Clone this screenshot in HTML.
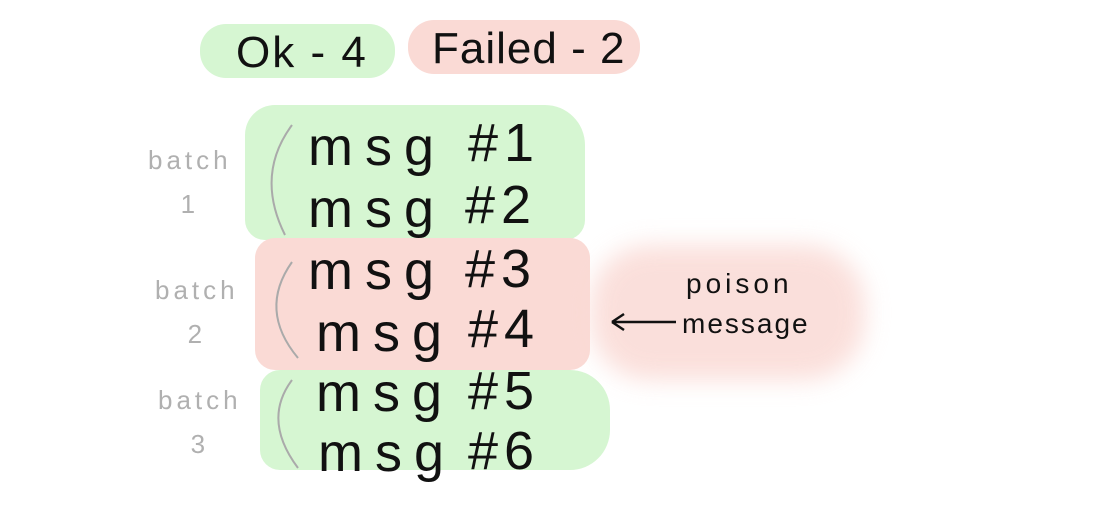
<!DOCTYPE html>
<html><head><meta charset="utf-8"><style>
body{margin:0;width:1100px;height:518px;background:#fff;position:relative;overflow:hidden;font-family:"Liberation Sans",sans-serif}
.b{position:absolute}
.t{position:absolute;color:#111;white-space:nowrap}
.g{position:absolute;color:#b0b0b0;font-size:26px;text-align:center;line-height:44px;letter-spacing:4px}
.m{font-size:54px;letter-spacing:12px}
.n{font-size:54px;letter-spacing:6px}
</style></head><body>
<div class="b" style="left:200px;top:24px;width:195px;height:54px;background:#d6f6d2;border-radius:26px"></div>
<div class="b" style="left:408px;top:20px;width:232px;height:54px;background:#fadad5;border-radius:26px"></div>
<div class="t" style="left:236px;top:28px;font-size:44px;letter-spacing:2px">Ok - 4</div>
<div class="t" style="left:432px;top:24px;font-size:44px;letter-spacing:1px">Failed - 2</div>

<div class="b" style="left:245px;top:105px;width:340px;height:135px;background:#d6f6d2;border-radius:30px 40px 20px 20px"></div>
<div class="b" style="left:255px;top:238px;width:335px;height:132px;background:#fadad5;border-radius:20px"></div>
<div class="b" style="left:260px;top:370px;width:350px;height:100px;background:#d6f6d2;border-radius:20px 40px 40px 20px"></div>
<div class="b" style="left:590px;top:245px;width:275px;height:135px;background:#fadad5;border-radius:60px;filter:blur(12px);opacity:.85"></div>

<svg class="b" style="left:0;top:0" width="1100" height="518">
<g fill="none" stroke="#aaa" stroke-width="2">
<path d="M292 125 Q255 175 285 235"/>
<path d="M292 262 Q258 310 298 358"/>
<path d="M292 380 Q262 420 298 468"/>
</g>
<path d="M612 322 H676 M612 322 l12 -8 M612 322 l12 8" stroke="#111" stroke-width="2.5" fill="none"/>
</svg>

<div class="g" style="left:148px;top:138px">batch<br>1</div>
<div class="g" style="left:155px;top:268px">batch<br>2</div>
<div class="g" style="left:158px;top:378px">batch<br>3</div>

<div class="t m" style="left:308px;top:116px">msg</div><div class="t n" style="left:468px;top:112px">#1</div>
<div class="t m" style="left:308px;top:178px">msg</div><div class="t n" style="left:465px;top:174px">#2</div>
<div class="t m" style="left:308px;top:240px">msg</div><div class="t n" style="left:465px;top:238px">#3</div>
<div class="t m" style="left:316px;top:302px">msg</div><div class="t n" style="left:468px;top:298px">#4</div>
<div class="t m" style="left:316px;top:362px">msg</div><div class="t n" style="left:468px;top:360px">#5</div>
<div class="t m" style="left:318px;top:422px">msg</div><div class="t n" style="left:468px;top:420px">#6</div>

<div class="t" style="left:686px;top:268px;font-size:28px;letter-spacing:4px">poison</div>
<div class="t" style="left:682px;top:308px;font-size:28px;letter-spacing:2px">message</div>
</body></html>
